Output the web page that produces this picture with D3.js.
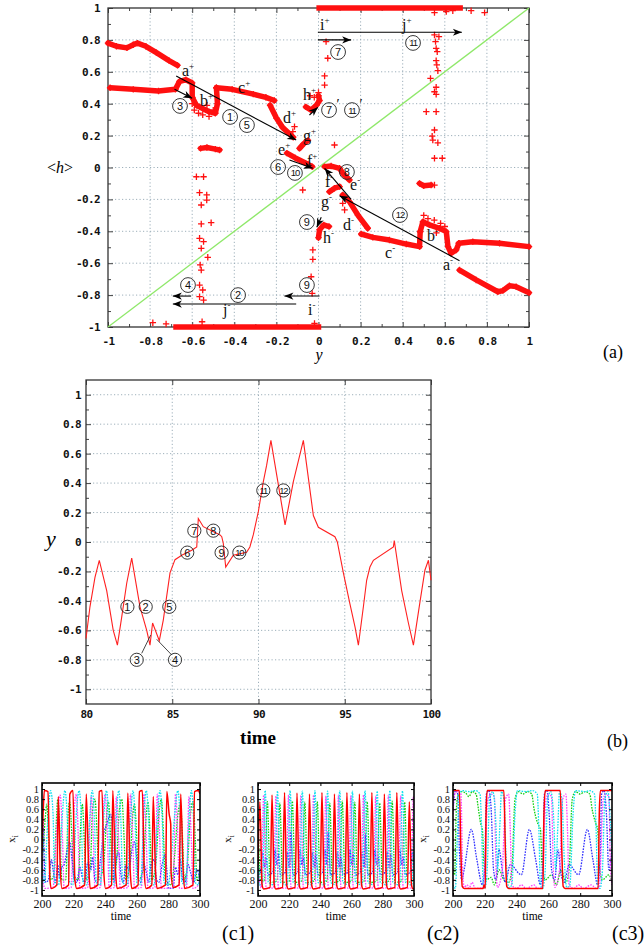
<!DOCTYPE html>
<html>
<head>
<meta charset="utf-8">
<script src="https://cdn.jsdelivr.net/npm/d3@7"></script>
<style>
body { margin: 0; background: #fff; }
svg { display: block; }
</style>
</head>
<body>
<svg id="fig" width="644" height="949"></svg>
<script>
// ---------------- panel (a) data ----------------
const aMajor = [-1, -0.8, -0.6, -0.4, -0.2, 0, 0.2, 0.4, 0.6, 0.8, 1];
const aMinor = [-0.9, -0.7, -0.5, -0.3, -0.1, 0.1, 0.3, 0.5, 0.7, 0.9];
const diagLine = [[-1, -1], [1, 1]];

// dense bands of points (upper / "+" side)
const bandUpper = [[-1.0,0.78],[-0.96,0.76],[-0.91,0.75],[-0.88,0.77],[-0.86,0.78],[-0.82,0.76],[-0.77,0.72],[-0.71,0.67],[-0.67,0.64]];
const bandMid = [[-0.99,0.50],[-0.88,0.49],[-0.76,0.48],[-0.68,0.49],[-0.66,0.54],[-0.63,0.55],[-0.60,0.53],[-0.60,0.44]];
const bandB = [[-0.60,0.44],[-0.58,0.39],[-0.55,0.37],[-0.52,0.35],[-0.49,0.34],[-0.48,0.40],[-0.485,0.50]];
const bandC = [[-0.485,0.50],[-0.41,0.49],[-0.31,0.46],[-0.25,0.44],[-0.21,0.42]];
const bandD = [[-0.23,0.39],[-0.20,0.31],[-0.17,0.25],[-0.12,0.19]];
const bandG = [[-0.09,0.12],[-0.07,0.15],[-0.05,0.17]];
const bandEF = [[-0.15,0.09],[-0.11,0.06],[-0.05,0.02],[-0.03,0.005]];
const bandH = [[-0.06,0.38],[-0.035,0.36],[-0.01,0.39],[0.005,0.42],[0.0,0.45]];
const blobPos = [[-0.56,0.12],[-0.53,0.125],[-0.49,0.115],[-0.47,0.11]];
const barTop = [[-0.01,1],[0.686,1]];

// dense bands ("-" side)
const bandLowerNeg = [[0.67,-0.643],[0.749,-0.705],[0.852,-0.779],[0.876,-0.772],[0.907,-0.741],[0.939,-0.747],[1.0,-0.785]];
const bandMidNeg = [[0.667,-0.475],[0.733,-0.465],[0.86,-0.475],[1.0,-0.496]];
const bandBNeg = [[0.483,-0.402],[0.496,-0.34],[0.527,-0.36],[0.575,-0.381],[0.607,-0.402],[0.615,-0.496],[0.63,-0.538],[0.654,-0.517],[0.667,-0.475]];
const bandCNeg = [[0.203,-0.417],[0.258,-0.438],[0.337,-0.455],[0.417,-0.48],[0.48,-0.496],[0.483,-0.402]];
const bandDNeg = [[0.115,-0.172],[0.147,-0.214],[0.187,-0.298],[0.234,-0.381]];
const bandGNeg = [[0.052,-0.152],[0.076,-0.13],[0.1,-0.12]];
const bandEFNeg = [[0.029,0.005],[0.06,0.009],[0.1,-0.005],[0.115,-0.036],[0.147,-0.078]];
const bandHNeg = [[0.0,-0.44],[0.005,-0.39],[0.025,-0.36],[0.05,-0.37]];
const blobNeg = [[0.48,-0.10],[0.50,-0.115],[0.535,-0.11]];
const barBottom = [[-0.69,-1],[0.013,-1]];

// isolated points
const scatterA = [
  [0.551,0.971],[0.607,0.977],[0.638,0.983],[0.725,0.983],[0.789,0.971],
  [0.551,0.831],[0.572,0.82],[0.556,0.789],[0.559,0.747],[0.564,0.726],[0.559,0.67],[0.562,0.643],[0.567,0.607],
  [0.532,0.559],[0.559,0.503],[0.551,0.475],[0.559,0.459],[0.512,0.35],[0.559,0.35],[0.551,0.235],[0.54,0.197],
  [0.543,0.172],[0.567,0.155],[0.551,0.058],[0.588,0.058],[0.551,-0.11],
  [0.036,0.789],[0.044,0.685],[0.029,0.574],[0.029,0.517],[0.076,0.141],[-0.075,-0.141],
  [-0.58,-0.058],[-0.546,-0.058],[-0.565,-0.158],[-0.531,-0.172],[-0.531,-0.204],[-0.557,-0.235],[-0.51,-0.346],
  [-0.557,-0.354],[-0.565,-0.444],[-0.546,-0.465],[-0.557,-0.507],[-0.526,-0.563],[-0.562,-0.611],[-0.557,-0.643],
  [-0.565,-0.737],[-0.55,-0.768],[-0.565,-0.81],[-0.546,-0.831],[-0.787,-0.973],[-0.724,-0.981],[-0.553,-0.967],
  [-0.027,-0.517],[-0.027,-0.576],[-0.035,-0.685],[-0.03,-0.789],[-0.019,-0.977],
  [0.115,-0.225],[0.124,-0.266],[-0.114,0.256],[-0.122,0.225],
  [-0.59,0.36],[-0.57,0.34],[-0.55,0.33],[-0.52,0.32],[-0.50,0.36],[-0.53,0.39],[-0.60,0.40],
  [0.52,-0.32],[0.55,-0.33],[0.58,-0.35],[0.60,-0.37],[0.56,-0.41],[0.50,-0.30],
  [-0.02,0.44],[0.0,0.47],[-0.04,0.45]
];

// arrows [x1, y1, x2, y2] (head at x2,y2)
const arrowsA = [
  [-0.676,0.574,-0.106,0.172], [-0.684,0.49,-0.60,0.434], [-0.138,0.047,-0.027,-0.005],
  [-0.043,0.329,-0.003,0.377], [-0.003,0.848,0.681,0.848], [-0.003,0.80,0.155,0.80],
  [0.155,-0.20,0.029,-0.005], [0.67,-0.584,0.10,-0.177], [0.013,-0.312,-0.008,-0.375],
  [-0.605,-0.806,-0.692,-0.806], [-0.106,-0.856,-0.692,-0.856], [0.005,-0.806,-0.162,-0.806]
];

// letter labels [letter, sign, x, y]
const lettersA = [
  ['a','+',-0.649,0.574], ['b','+',-0.563,0.386], ['c','+',-0.382,0.467], ['d','+',-0.169,0.279],
  ['e','+',-0.192,0.078], ['f','+',-0.055,0.009], ['g','+',-0.074,0.166], ['h','+',-0.074,0.423],
  ['i','+',0.007,0.862], ['j','+',0.397,0.862],
  ['f','-',0.031,-0.12], ['e','-',0.15,-0.141], ['g','-',0.012,-0.245], ['d','-',0.116,-0.392],
  ['h','-',0.021,-0.473], ['c','-',0.316,-0.567], ['b','-',0.515,-0.461], ['a','-',0.591,-0.643],
  ['j','-',-0.454,-0.925], ['i','-',-0.05,-0.925]
];

// circled step numbers [label, x, y, prime]
const circlesA = [
  ['3',-0.658,0.386,''], ['1',-0.42,0.317,''], ['5',-0.34,0.266,''], ['6',-0.192,0.003,''], ['10',-0.112,-0.034,''],
  ['7',0.093,0.724,''], ['11',0.449,0.781,''], ['7',0.05,0.36,'\u2032'], ['11',0.159,0.36,'\u2032'],
  ['8',0.135,-0.028,''], ['9',-0.055,-0.342,''], ['12',0.387,-0.298,''],
  ['4',-0.62,-0.737,''], ['2',-0.382,-0.80,''], ['9',-0.055,-0.737,'']
];

// ---------------- panel (b) data ----------------
const bXMajor = [80, 85, 90, 95, 100];
const bYMajor = aMajor;
const bYMinor = aMinor;
const bSeries = [
  [80,-0.655],[80.23,-0.44],[80.52,-0.24],[80.77,-0.124],[81.2,-0.33],[81.58,-0.6],[81.82,-0.70],
  [82.07,-0.51],[82.36,-0.28],[82.65,-0.11],[83.13,-0.44],[83.52,-0.6],[83.71,-0.70],[83.86,-0.55],
  [84.25,-0.67],[84.48,-0.53],[84.87,-0.21],[85.16,-0.12],[85.55,-0.09],[86.13,-0.056],[86.42,-0.034],
  [86.51,0.16],[86.8,0.104],[87.77,0.048],[87.87,0.036],[87.96,-0.01],[88.1,-0.17],[88.54,-0.09],
  [89.31,-0.07],[89.5,-0.034],[89.7,0.05],[89.99,0.206],[90.28,0.41],[90.47,0.52],[90.72,0.69],
  [91.54,0.116],[92.02,0.41],[92.6,0.69],[93.18,0.18],[93.47,0.10],[94.43,0.036],[94.57,0.0],
  [94.92,-0.21],[95.3,-0.42],[95.6,-0.58],[95.79,-0.70],[96.08,-0.44],[96.27,-0.26],[96.46,-0.17],
  [96.66,-0.124],[97.82,-0.034],[97.87,0.01],[98.3,-0.33],[98.69,-0.55],[98.98,-0.70],[99.37,-0.40],
  [99.65,-0.19],[99.85,-0.124],[100,-0.26]
];
const circlesB = [
  ['1',82.4,-0.44], ['2',83.46,-0.44], ['5',84.83,-0.44], ['3',82.94,-0.80], ['4',85.16,-0.80],
  ['6',85.87,-0.072], ['9',87.86,-0.072], ['10',88.89,-0.072], ['7',86.28,0.077], ['8',87.38,0.077],
  ['11',90.28,0.35], ['12',91.44,0.35]
];
const leadersB = [[83.23,-0.756,83.75,-0.632], [84.1,-0.661,84.97,-0.767]];

// ---------------- panels (c) data ----------------
const cXTicks = [200, 220, 240, 260, 280, 300];
const cYTicks = aMajor;

const c1Red = [[200,-0.2],[200.8,0.6],[201.5,0.97],[203.8,0.95],[205,-0.8],[206,-0.97],[209.4,-0.9],[210.3,0.85],[211.6,-0.6],[212.6,-0.97],[216.8,-0.9],[217.6,0.9],[219.6,0.97],[220.8,-0.8],[222,-0.97],[227,-0.9],[228,0.9],[229.5,-0.5],[230.5,-0.97],[235.3,-0.9],[236.2,0.95],[238,0.97],[239.2,-0.7],[240.2,-0.97],[244,-0.9],[244.8,0.97],[246.5,-0.6],[247.5,-0.97],[253.3,-0.9],[254.3,0.92],[255.8,-0.6],[256.8,-0.97],[260.8,-0.9],[261.6,0.95],[263.5,0.97],[264.8,-0.7],[265.8,-0.97],[269.5,-0.9],[270.4,0.85],[271.8,-0.6],[272.8,-0.97],[278.2,-0.9],[279,0.95],[280.5,0.5],[281.5,0.3],[281.7,-0.66],[283,-0.95],[286.8,-0.9],[287.8,0.9],[289.3,-0.6],[290.3,-0.97],[295.6,-0.9],[296.5,0.95],[299,0.97],[300,0.9]];
const c1Cyan = [[200,-0.5],[201.5,-0.85],[203.5,0.3],[205.5,0.97],[207,0.5],[208,-0.85],[210.5,-0.9],[212.5,0.3],[214.5,0.97],[216,0.4],[217,-0.8],[219.5,-0.9],[221.5,0.4],[223.5,0.97],[225,0.3],[226,-0.85],[228.5,-0.9],[230,0.3],[231.8,0.97],[233.3,0.3],[234.3,-0.85],[237,-0.9],[239,0.4],[240.8,0.97],[242.3,0.3],[243.3,-0.85],[245.5,-0.9],[247,0.4],[248.6,0.97],[250,0.3],[251,-0.85],[254,-0.9],[256,0.4],[257.6,0.97],[259,0.3],[260,-0.85],[262.5,-0.9],[264.3,0.4],[266,0.97],[267.5,0.3],[268.5,-0.85],[271,-0.9],[273,0.4],[274.7,0.97],[276.2,0.3],[277.2,-0.85],[280,-0.9],[282,-0.3],[284,0.5],[286,0.97],[287.5,0.3],[288.5,-0.85],[291,-0.9],[293,0.4],[294.6,0.97],[296,0.3],[297,-0.85],[299,-0.9],[300,-0.5]];
const c1Magenta = [[200,0.2],[201,-0.9],[202,-0.97],[207,-0.95],[209.5,0.3],[211.5,0.88],[213,0],[214,-0.97],[218.5,-0.95],[220,0.4],[221.8,0.9],[223,0],[224,-0.97],[229,-0.95],[230.5,0.4],[231.2,0.85],[232.5,0],[233.5,-0.97],[237,-0.95],[238.5,0.4],[240,0.9],[241.5,0],[242.5,-0.97],[246,-0.95],[247,0.85],[248.5,0],[249.5,-0.97],[254.5,-0.95],[256,0.9],[257.5,0],[258.5,-0.97],[263,-0.95],[264.5,0.9],[266,0],[267,-0.97],[271.5,-0.95],[273,0.9],[274.5,0],[275.5,-0.97],[283,-0.95],[284.5,0.9],[286,0],[287,-0.97],[291.5,-0.95],[293,0.85],[294.5,0],[295.5,-0.97],[299,-0.9],[300,-0.5]];
const c1Green = [[200,-0.6],[202,0.4],[203,0.7],[204.5,-0.2],[205.5,-0.8],[207.5,-0.7],[209,0.3],[210,0.8],[211.5,0],[212.5,-0.8],[215,-0.8],[216.5,0.5],[217.5,0.75],[219,0],[220,-0.7],[223,-0.8],[224.5,0.3],[225.5,0.7],[227,-0.2],[228,-0.8],[230.5,-0.6],[232,0.6],[233.5,0.8],[235,0],[236,-0.8],[239,-0.5],[241,0.5],[242,0.75],[243.5,0],[244.5,-0.8],[247,-0.5],[249,0.6],[250.5,0.8],[252,0],[253,-0.8],[255.5,-0.5],[257.5,0.5],[258.5,0.7],[260,0],[261,-0.8],[264,-0.6],[266,0.5],[267,0.75],[268.5,0],[269.5,-0.8],[272,-0.5],[274,0.5],[275.5,0.8],[277,0],[278,-0.8],[282,-0.9],[284,-0.3],[286,0.5],[287.5,0.7],[289,0],[290,-0.8],[292,-0.5],[294,0.5],[295.5,0.75],[297,0],[298,-0.8],[300,-0.6]];
const c1Blue = [[200,0.45],[200.8,0.3],[201.5,-0.5],[202.5,-0.85],[204,-0.8],[206,-0.4],[207,-0.6],[208.5,-0.85],[210,-0.5],[211,-0.75],[212.5,-0.55],[214,-0.5],[216,-0.2],[217.5,-0.05],[219,-0.4],[220.5,-0.8],[222,-0.85],[224,-0.55],[225.5,-0.75],[227,-0.85],[229,-0.45],[231,-0.6],[232,-0.35],[233.5,-0.8],[235,-0.85],[237,-0.4],[239,0.1],[241,0.3],[243.5,0.5],[244.5,0.2],[245.5,-0.85],[247,-0.4],[248.5,-0.25],[250,-0.7],[251.5,-0.85],[253,-0.5],[255,-0.6],[257,-0.2],[258.5,-0.05],[260,-0.4],[261,-0.8],[262.5,-0.85],[264,-0.45],[266,-0.65],[267.5,-0.85],[269,-0.5],[271,-0.4],[272.5,-0.8],[274,-0.85],[276,-0.5],[278,-0.3],[279,-0.6],[280,-0.97],[283,-0.97],[284.5,-0.55],[286,-0.7],[287.5,-0.4],[289,-0.8],[290.5,-0.85],[292.5,-0.5],[294,-0.65],[296,-0.85],[298,-0.6],[300,-0.8]];

const c2Red = [[200,-0.5],[201.2,0.75],[202.6,-0.9],[203.6,-0.98],[207.8,-0.95],[209,0.88],[210.4,-0.9],[211.4,-0.98],[215.8,-0.95],[217,0.93],[218.4,-0.9],[219.4,-0.98],[223.8,-0.95],[225,0.92],[226.4,-0.9],[227.4,-0.98],[231.8,-0.95],[233,0.9],[234.4,-0.9],[235.4,-0.98],[239.8,-0.95],[241,0.93],[242.4,-0.9],[243.4,-0.98],[247.8,-0.95],[249,0.9],[250.4,-0.9],[251.4,-0.98],[255.8,-0.95],[257,0.93],[258.4,-0.9],[259.4,-0.98],[263.8,-0.95],[265,0.9],[266.4,-0.9],[267.4,-0.98],[271.8,-0.95],[273,0.93],[274.4,-0.9],[275.4,-0.98],[279.8,-0.95],[281,0.9],[282.4,-0.9],[283.4,-0.98],[287.8,-0.95],[289,0.93],[290.4,-0.9],[291.4,-0.98],[295.8,-0.95],[297,0.75],[298.4,-0.9],[299.4,-0.98],[300,-0.97]];
const c2Cyan = [[200,0.1],[200.8,-0.9],[202.8,-0.9],[204.6,0.97],[206.6,-0.85],[210.7,-0.9],[212.5,0.96],[214.5,-0.85],[218.8,-0.9],[220.6,0.97],[222.6,-0.85],[226.6,-0.9],[228.4,0.96],[230.4,-0.85],[234.7,-0.9],[236.5,0.97],[238.5,-0.85],[242.8,-0.9],[244.6,0.96],[246.6,-0.85],[250.6,-0.9],[252.4,0.97],[254.4,-0.85],[258.7,-0.9],[260.5,0.96],[262.5,-0.85],[266.8,-0.9],[268.6,0.97],[270.6,-0.85],[274.6,-0.9],[276.4,0.96],[278.4,-0.85],[282.7,-0.9],[284.5,0.97],[286.5,-0.85],[290.8,-0.9],[292.6,0.96],[294.6,-0.85],[298.6,-0.9],[300,0.6]];
const c2Magenta = [[200,-0.6],[202.1,-0.96],[203.6,0.88],[205.2,-0.97],[210,-0.96],[211.5,0.86],[213.1,-0.97],[218.1,-0.96],[219.6,0.88],[221.2,-0.97],[226,-0.96],[227.5,0.87],[229.1,-0.97],[234.1,-0.96],[235.6,0.88],[237.2,-0.97],[242,-0.96],[243.5,0.86],[245.1,-0.97],[250.1,-0.96],[251.6,0.88],[253.2,-0.97],[258,-0.96],[259.5,0.87],[261.1,-0.97],[266.1,-0.96],[267.6,0.88],[269.2,-0.97],[274,-0.96],[275.5,0.86],[277.1,-0.97],[282.1,-0.96],[283.6,0.88],[285.2,-0.97],[290,-0.96],[291.5,0.87],[293.1,-0.97],[298.1,-0.96],[299.6,0.85],[300,0.5]];
const c2Green = [[200,0.5],[201.5,-0.8],[204.2,-0.82],[206,0.75],[207.8,-0.85],[212.2,-0.82],[214,0.72],[215.8,-0.85],[220.2,-0.82],[222,0.76],[223.8,-0.85],[228.2,-0.82],[230,0.74],[231.8,-0.85],[236.2,-0.82],[238,0.75],[239.8,-0.85],[244.2,-0.82],[246,0.72],[247.8,-0.85],[252.2,-0.82],[254,0.76],[255.8,-0.85],[260.2,-0.82],[262,0.74],[263.8,-0.85],[268.2,-0.82],[270,0.75],[271.8,-0.85],[276.2,-0.82],[278,0.72],[279.8,-0.85],[284.2,-0.82],[286,0.76],[287.8,-0.85],[292.2,-0.82],[294,0.74],[295.8,-0.85],[300,-0.8]];
const c2Blue = [[200,-0.7],[201.5,-0.65],[203,-0.25],[204,-0.55],[205,-0.35],[206.5,-0.7],[209.5,-0.65],[211,-0.2],[212,-0.5],[213,-0.3],[214.5,-0.7],[217.5,-0.65],[219,-0.25],[220,-0.55],[221,0.15],[222.5,-0.7],[225.5,-0.65],[227,-0.2],[228,-0.5],[229,-0.35],[230.5,-0.7],[233.5,-0.65],[235,-0.25],[236,-0.55],[237,-0.3],[238.5,-0.7],[241.5,-0.65],[243,-0.2],[244,-0.5],[245,0.15],[246.5,-0.7],[249.5,-0.65],[251,-0.25],[252,-0.55],[253,-0.35],[254.5,-0.7],[257.5,-0.65],[259,-0.2],[260,-0.5],[261,-0.3],[262.5,-0.7],[265.5,-0.65],[267,-0.25],[268,-0.55],[269,0.1],[270.5,-0.7],[273.5,-0.65],[275,-0.2],[276,-0.5],[277,-0.35],[278.5,-0.7],[281.5,-0.65],[283,-0.25],[284,-0.55],[285,-0.3],[286.5,-0.7],[289.5,-0.65],[291,-0.2],[292,-0.5],[293,-0.35],[294.5,-0.7],[297.5,-0.65],[299,-0.25],[300,-0.5]];

const c3Red = [[200,0.97],[204,0.97],[205,-0.3],[205.8,-0.93],[207,-0.97],[219,-0.97],[219.5,-0.9],[220.3,-0.97],[220.8,0.5],[221.5,0.97],[232,0.97],[233,-0.3],[233.8,-0.93],[235,-0.97],[256.5,-0.97],[257.2,0.5],[258,0.97],[267.5,0.97],[268.5,-0.3],[269.3,-0.93],[270.5,-0.97],[291.3,-0.97],[292,0.5],[292.7,0.97],[300,0.97]];
const c3Green = [[200,-0.6],[201,-0.7],[202,0.5],[203,0.85],[205,0.95],[208,0.92],[210,0.85],[212,0.95],[214.5,0.9],[216,0.6],[217.5,0.3],[218.5,0.2],[219.5,-0.5],[221,-0.8],[224,-0.75],[226,-0.9],[229,-0.6],[232,-0.8],[235,-0.85],[237,-0.6],[239,0.8],[241,0.95],[244,0.9],[247,0.95],[249.5,0.9],[251,0.6],[253.5,0.3],[255,0.2],[256,-0.5],[258,-0.8],[262,-0.7],[265,-0.9],[268,-0.6],[271,-0.85],[273,-0.6],[275,0.8],[277,0.95],[280,0.9],[283,0.95],[286,0.9],[287.5,0.6],[290,0.3],[291,0.2],[292,-0.5],[294,-0.8],[298,-0.7],[300,-0.85]];
const c3Blue = [[200,0.6],[201.5,0.97],[203,0.9],[204,-0.2],[205.5,-0.8],[207,-0.6],[211.5,0.2],[215,-0.4],[218.5,-0.9],[220,-0.5],[221,0.9],[222.5,0.97],[224,0.6],[225.5,-0.6],[227,-0.8],[229,-0.2],[231,-0.6],[233,-0.85],[236,-0.5],[243,-0.7],[248,0.2],[252,-0.4],[255,-0.9],[256.5,-0.4],[257.5,0.9],[259,0.97],[260.5,0.5],[262,-0.6],[264,-0.8],[266,-0.2],[268,-0.7],[270,-0.85],[273,-0.5],[279,-0.7],[284.5,0.2],[288,-0.4],[291,-0.9],[292.5,-0.4],[293.5,0.9],[295,0.97],[296.5,0.5],[298,-0.6],[300,-0.2]];
const c3Magenta = [[200,0.5],[201,0.9],[203,0.95],[205,0.9],[206,-0.5],[207,-0.95],[209,-0.9],[210,-0.97],[212,-0.85],[214,-0.97],[219,-0.95],[222,0.8],[224,0.9],[226,0.85],[227,-0.5],[228,-0.95],[231,-0.6],[233,0.8],[235,0.9],[236,0.2],[237,-0.9],[240,-0.97],[243,-0.9],[246,-0.97],[251,-0.9],[253,-0.97],[256,-0.95],[258.5,0.8],[260,0.9],[262,0.85],[263,-0.5],[264,-0.95],[267,-0.6],[269,0.8],[271,0.9],[272,0.2],[273,-0.9],[276,-0.97],[279,-0.9],[282,-0.97],[287,-0.9],[290,-0.97],[292,-0.95],[294.5,0.8],[296,0.9],[298,0.85],[299,-0.5],[300,-0.9]];
const c3Cyan = [[200,-0.9],[201.5,-0.97],[203,0.3],[204,0.9],[206,0.97],[210,0.95],[214,0.97],[217,0.9],[218,0.2],[219,-0.9],[220,-0.97],[221.5,-0.6],[223,0.8],[225,0.95],[227,0.3],[228,-0.6],[229.5,0.3],[230.5,0.95],[232,0.8],[233.5,-0.4],[235,-0.95],[237,-0.9],[239,0.5],[240.5,0.97],[246,0.95],[250,0.97],[253,0.9],[254,0.2],[255,-0.9],[256.5,-0.97],[258,-0.6],[259.5,0.8],[261.5,0.95],[263.5,0.3],[264.5,-0.6],[266,0.3],[267,0.95],[268.5,0.8],[270,-0.4],[271.5,-0.95],[273.5,-0.9],[275.5,0.5],[277,0.97],[283,0.95],[286,0.97],[289,0.9],[290,0.2],[291,-0.9],[292.5,-0.97],[294,-0.6],[295.5,0.8],[297.5,0.95],[299,0.3],[300,-0.3]];

// ---------------- drawing ----------------
const svg = d3.select('#fig');
const SERIF = '"Liberation Serif", "Times New Roman", serif';
const MONO = '"DejaVu Sans Mono", "Liberation Mono", monospace';
const SANS = '"Liberation Sans", Arial, sans-serif';
const fmt = v => String(v);

const defs = svg.append('defs');
defs.append('marker')
  .attr('id', 'ah').attr('viewBox', '-10 -5 11 10').attr('refX', 0).attr('refY', 0)
  .attr('markerWidth', 11).attr('markerHeight', 10).attr('markerUnits', 'userSpaceOnUse')
  .attr('orient', 'auto')
  .append('path').attr('d', 'M0,0L-9,-3.6L-6.5,0L-9,3.6Z').attr('fill', '#000');

// gnuplot-like frame, grid, ticks
function gnuPanel(g, x, y, o) {
  const [xl, xr] = x.range(), [yb, yt] = y.range();
  const grid = g.append('g').attr('stroke', '#93a7b3').attr('stroke-width', 0.9).attr('stroke-dasharray', '1.2,2.3');
  grid.selectAll('.gv').data(o.xGrid).join('line')
    .attr('x1', d => x(d)).attr('x2', d => x(d)).attr('y1', yb).attr('y2', yt);
  grid.selectAll('.gh').data(o.yGrid).join('line')
    .attr('x1', xl).attr('x2', xr).attr('y1', d => y(d)).attr('y2', d => y(d));

  const axes = [
    [d3.axisLeft(y).tickValues(o.yMajor).tickSize(-5).tickPadding(o.yPad).tickFormat(fmt), `translate(${xl},0)`],
    [d3.axisLeft(y).tickValues(o.yMinor).tickSize(-3).tickFormat(''), `translate(${xl},0)`],
    [d3.axisRight(y).tickValues(o.yMajor).tickSize(-5).tickFormat(''), `translate(${xr},0)`],
    [d3.axisRight(y).tickValues(o.yMinor).tickSize(-3).tickFormat(''), `translate(${xr},0)`],
    [d3.axisBottom(x).tickValues(o.xMajor).tickSize(-5).tickPadding(o.xPad).tickFormat(fmt), `translate(0,${yb})`],
    [d3.axisTop(x).tickValues(o.xMajor).tickSize(-5).tickFormat(''), `translate(0,${yt})`]
  ];
  if (o.xMinor) {
    axes.push([d3.axisBottom(x).tickValues(o.xMinor).tickSize(-3).tickFormat(''), `translate(0,${yb})`]);
    axes.push([d3.axisTop(x).tickValues(o.xMinor).tickSize(-3).tickFormat(''), `translate(0,${yt})`]);
  }
  axes.forEach(([ax, tr]) => {
    const a = g.append('g').attr('transform', tr).call(ax);
    a.select('.domain').remove();
    a.selectAll('line').attr('stroke', '#444');
    a.selectAll('text').attr('font-family', MONO).attr('font-weight', 'bold')
      .attr('font-size', 11).attr('letter-spacing', -0.6).attr('fill', '#111');
  });
  g.append('rect').attr('x', xl).attr('y', yt).attr('width', xr - xl).attr('height', yb - yt)
    .attr('fill', 'none').attr('stroke', '#333').attr('stroke-width', 1.3);
}

function circled(g, cx, cy, label, r) {
  g.append('circle').attr('cx', cx).attr('cy', cy).attr('r', r)
    .attr('fill', 'none').attr('stroke', '#222').attr('stroke-width', 0.9);
  const two = label.length > 1;
  g.append('text').attr('x', cx).attr('y', cy).attr('dy', '0.36em').attr('text-anchor', 'middle')
    .attr('font-family', SANS).attr('font-size', two ? 9.5 : 11)
    .attr('letter-spacing', two ? -1.1 : 0).attr('fill', '#111').text(label);
}

// ---------- panel (a) ----------
const xa = d3.scaleLinear().domain([-1, 1]).range([108, 529]);
const ya = d3.scaleLinear().domain([-1, 1]).range([327, 8]);
const gA = svg.append('g');
gnuPanel(gA, xa, ya, {
  xGrid: aMajor.slice(1, -1), yGrid: aMajor.slice(1, -1),
  xMajor: aMajor, xMinor: aMinor, yMajor: aMajor, yMinor: aMinor, xPad: 10, yPad: 8
});
const lineA = d3.line().x(d => xa(d[0])).y(d => ya(d[1]));
gA.append('path').datum(diagLine).attr('d', lineA)
  .attr('stroke', '#8fe86a').attr('stroke-width', 1.3).attr('fill', 'none');

const bands = [bandUpper, bandMid, bandB, bandC, bandD, bandG, bandEF, bandH, blobPos,
  bandLowerNeg, bandMidNeg, bandBNeg, bandCNeg, bandDNeg, bandGNeg, bandEFNeg, bandHNeg, blobNeg];
gA.append('g').selectAll('path').data(bands).join('path')
  .attr('d', lineA).attr('fill', 'none').attr('stroke', '#ff1010').attr('stroke-width', 5.5)
  .attr('stroke-linejoin', 'round').attr('stroke-linecap', 'round');
gA.append('g').selectAll('path').data([barTop, barBottom]).join('path')
  .attr('d', lineA).attr('fill', 'none').attr('stroke', '#ff1010').attr('stroke-width', 5.5);

const plus = 'M-3.2,0H3.2M0,-3.2V3.2';
const crossPts = scatterA.concat(...bands);
gA.append('g').selectAll('path').data(crossPts).join('path')
  .attr('transform', d => `translate(${xa(d[0])},${ya(d[1])})`)
  .attr('d', plus).attr('stroke', '#ff1010').attr('stroke-width', 1.3);

gA.append('g').selectAll('line').data(arrowsA).join('line')
  .attr('x1', d => xa(d[0])).attr('y1', d => ya(d[1]))
  .attr('x2', d => xa(d[2])).attr('y2', d => ya(d[3]))
  .attr('stroke', '#000').attr('stroke-width', 1.1).attr('marker-end', 'url(#ah)');

lettersA.forEach(([l, s, x, y]) => {
  const t = gA.append('text').attr('x', xa(x)).attr('y', ya(y))
    .attr('font-family', SERIF).attr('font-size', 16).attr('fill', '#111');
  t.append('tspan').text(l);
  t.append('tspan').attr('font-size', 9).attr('dy', -7).text(s);
});
circlesA.forEach(([l, x, y, p]) => {
  circled(gA, xa(x), ya(y), l, 7.4);
  if (p) gA.append('text').attr('x', xa(x) + 7.5).attr('y', ya(y) - 1)
    .attr('font-family', SERIF).attr('font-size', 14).text(p);
});

gA.append('text').attr('x', 47).attr('y', 173).attr('font-family', SERIF).attr('font-size', 16)
  .call(t => {
    t.append('tspan').text('<');
    t.append('tspan').attr('font-style', 'italic').text('h');
    t.append('tspan').text('>');
  });
gA.append('text').attr('x', 319).attr('y', 360).attr('text-anchor', 'middle')
  .attr('font-family', SERIF).attr('font-style', 'italic').attr('font-size', 16).text('y');
gA.append('text').attr('x', 603).attr('y', 358).attr('font-family', SERIF).attr('font-size', 18).text('(a)');

// ---------- panel (b) ----------
const xb = d3.scaleLinear().domain([80, 100]).range([86, 431]);
const yb = d3.scaleLinear().domain([-1.1, 1.1]).range([704, 380]);
const gB = svg.append('g');
gnuPanel(gB, xb, yb, {
  xGrid: bXMajor.slice(1, -1), yGrid: bYMajor,
  xMajor: bXMajor, yMajor: bYMajor, yMinor: bYMinor, xPad: 6, yPad: 5
});
gB.append('path').datum(bSeries)
  .attr('d', d3.line().x(d => xb(d[0])).y(d => yb(d[1])))
  .attr('fill', 'none').attr('stroke', '#ff2020').attr('stroke-width', 1.1);
gB.selectAll('.lead').data(leadersB).join('line')
  .attr('x1', d => xb(d[0])).attr('y1', d => yb(d[1])).attr('x2', d => xb(d[2])).attr('y2', d => yb(d[3]))
  .attr('stroke', '#333').attr('stroke-width', 0.9);
circlesB.forEach(([l, t, v]) => circled(gB, xb(t), yb(v), l, 6.6));
gB.append('text').attr('x', 51).attr('y', 546).attr('text-anchor', 'middle')
  .attr('font-family', SERIF).attr('font-style', 'italic').attr('font-size', 22).text('y');
gB.append('text').attr('x', 258).attr('y', 744).attr('text-anchor', 'middle')
  .attr('font-family', SERIF).attr('font-weight', 'bold').attr('font-size', 19).text('time');
gB.append('text').attr('x', 607).attr('y', 747).attr('font-family', SERIF).attr('font-size', 18).text('(b)');

// ---------- panels (c) ----------
function cPanel(x0, x1, series, tag, tagX) {
  const x = d3.scaleLinear().domain([200, 300]).range([x0, x1]);
  const y = d3.scaleLinear().domain([-1.12, 1.12]).range([896, 783]);
  const g = svg.append('g');
  const clipId = 'clip' + tag.replace(/[()]/g, '');
  defs.append('clipPath').attr('id', clipId).append('rect')
    .attr('x', x0).attr('y', 783).attr('width', x1 - x0).attr('height', 113);
  const line = d3.line().x(d => x(d[0])).y(d => y(d[1])).curve(d3.curveMonotoneX);
  const gs = g.append('g').attr('clip-path', `url(#${clipId})`);
  series.forEach(s => {
    gs.append('path').datum(s.data).attr('d', line).attr('fill', 'none')
      .attr('stroke', s.color).attr('stroke-width', s.w)
      .attr('stroke-dasharray', s.dash || null);
  });
  const axes = [
    [d3.axisLeft(y).tickValues(cYTicks).tickSize(-3).tickPadding(3).tickFormat(fmt), `translate(${x0},0)`, 10.5],
    [d3.axisRight(y).tickValues(cYTicks).tickSize(-3).tickFormat(''), `translate(${x1},0)`, 0],
    [d3.axisBottom(x).tickValues(cXTicks).tickSize(-3).tickPadding(3).tickFormat(fmt), `translate(0,896)`, 12],
    [d3.axisTop(x).tickValues(cXTicks).tickSize(-3).tickFormat(''), `translate(0,783)`, 0]
  ];
  axes.forEach(([ax, tr, fs]) => {
    const a = g.append('g').attr('transform', tr).call(ax);
    a.select('.domain').remove();
    a.selectAll('line').attr('stroke', '#000');
    a.selectAll('text').attr('font-family', SERIF).attr('font-size', fs).attr('fill', '#111');
  });
  g.append('rect').attr('x', x0).attr('y', 783).attr('width', x1 - x0).attr('height', 113)
    .attr('fill', 'none').attr('stroke', '#000').attr('stroke-width', 1.6);
  g.append('text').attr('transform', `translate(${x0 - 27},839) rotate(-90)`).attr('text-anchor', 'middle')
    .attr('font-family', SERIF).attr('font-size', 11)
    .call(t => { t.append('tspan').text('x'); t.append('tspan').attr('font-size', 7.5).attr('dy', 3).text('i'); });
  g.append('text').attr('x', (x0 + x1) / 2).attr('y', 920).attr('text-anchor', 'middle')
    .attr('font-family', SERIF).attr('font-size', 11.5).text('time');
  g.append('text').attr('x', tagX).attr('y', 940).attr('font-family', SERIF).attr('font-size', 20).text(tag);
}

const style = (data, color, dotted) => ({
  data, color, w: dotted ? 1.3 : 1.5, dash: dotted ? '1.6,1.2' : null
});
cPanel(42, 200, [
  style(c1Green, '#10d010', true), style(c1Blue, '#3030ff', true), style(c1Magenta, '#ff40ff', true),
  style(c1Cyan, '#10e0f0', true), style(c1Red, '#ff0000', false)
], '(c1)', 222);
cPanel(258, 414, [
  style(c2Green, '#10d010', true), style(c2Blue, '#3030ff', true), style(c2Magenta, '#ff40ff', true),
  style(c2Cyan, '#10e0f0', true), style(c2Red, '#ff0000', false)
], '(c2)', 427);
cPanel(453, 612, [
  style(c3Green, '#10d010', true), style(c3Blue, '#3030ff', true), style(c3Magenta, '#ff40ff', true),
  style(c3Cyan, '#10e0f0', true), style(c3Red, '#ff0000', false)
], '(c3)', 612);
</script>
</body>
</html>
